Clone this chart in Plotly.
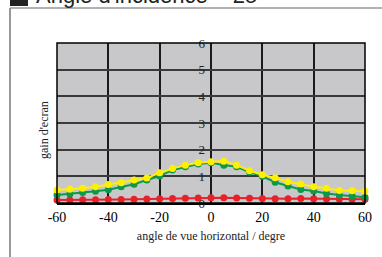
import plotly.graph_objects as go

angles = list(range(-60, 61, 5))
yellow = [0.49, 0.52, 0.55, 0.61, 0.69, 0.76, 0.86, 0.94, 1.13, 1.29, 1.42, 1.51, 1.55,
          1.57, 1.42, 1.21, 1.06, 0.95, 0.80, 0.71, 0.61, 0.55, 0.47, 0.46, 0.44]
green = [0.30, 0.34, 0.39, 0.44, 0.50, 0.61, 0.70, 0.86, 1.01, 1.24, 1.36, 1.46, 1.51,
         1.42, 1.36, 1.16, 1.00, 0.78, 0.64, 0.51, 0.45, 0.36, 0.30, 0.26, 0.22]
red = [0.11, 0.11, 0.12, 0.12, 0.13, 0.13, 0.14, 0.15, 0.16, 0.17, 0.18, 0.19, 0.20,
       0.20, 0.19, 0.18, 0.17, 0.16, 0.16, 0.17, 0.16, 0.15, 0.15, 0.14, 0.14]
x_ticks = [-60, -40, -20, 0, 20, 40, 60]
y_ticks = [0, 1, 2, 3, 4, 5, 6]

W, H = 382, 257
L, R, T, B = 57, 17, 43, 54
pw, ph = W - L - R, H - T - B

def px(x):
    return (x - L) / pw

def py(y):
    return (H - B - y) / ph

fig = go.Figure()
for vals, col in [(red, "#E8202A"), (green, "#0A9A4A"), (yellow, "#FFEF00")]:
    fig.add_trace(go.Scatter(x=angles, y=vals, mode="lines+markers",
                             line=dict(color=col, width=2),
                             marker=dict(color=col, size=7),
                             showlegend=False, cliponaxis=False))

fig.update_layout(
    width=W, height=H,
    margin=dict(l=L, r=R, t=T, b=B, autoexpand=False),
    paper_bgcolor="white", plot_bgcolor="#C8C8CA",
    font=dict(family="Liberation Serif", size=13, color="black"),
    xaxis=dict(range=[-60, 60], tickvals=x_ticks, ticktext=[str(v) for v in x_ticks],
               showgrid=True, gridcolor="#1a1a1a", gridwidth=1.5,
               zeroline=False, showline=True, linecolor="black", linewidth=2,
               ticks="", tickfont=dict(size=14, color="black"), automargin=False,
               title=dict(text="angle de vue horizontal / degre",
                          font=dict(size=12, color="#222"), standoff=8)),
    yaxis=dict(range=[0, 6], tickvals=y_ticks, ticktext=[str(v) for v in y_ticks],
               showgrid=True, gridcolor="#3a3a3a", gridwidth=1.5,
               zeroline=False, showline=False, anchor="free", position=0.5,
               automargin=False, ticklabelstandoff=6,
               ticks="", tickfont=dict(size=13, color="#222")),
    shapes=[
        dict(type="rect", xref="paper", yref="paper", x0=0, x1=1, y0=0, y1=1,
             line=dict(color="black", width=1.5), layer="above"),
        dict(type="line", xref="paper", yref="paper", x0=px(10), x1=px(10),
             y0=py(8), y1=py(H), line=dict(color="#555", width=1.2)),
        dict(type="line", xref="paper", yref="paper", x0=px(10), x1=px(W),
             y0=py(8), y1=py(8), line=dict(color="#999", width=1.5)),
        dict(type="rect", xref="paper", yref="paper", x0=px(10), x1=px(28),
             y0=py(6), y1=py(-10), fillcolor="#222", line=dict(width=0)),
    ],
    annotations=[
        dict(text="gain d'ecran", xref="paper", yref="paper", x=px(35), y=py(130),
             textangle=-90, showarrow=False, font=dict(size=12, color="#222")),
        dict(text="Angle d'incidence = 25°", xref="paper", yref="paper",
             x=px(34), y=py(10), xanchor="left", yanchor="bottom", showarrow=False,
             font=dict(family="Liberation Sans", size=22, color="#222")),
    ],
)

fig.write_html("out.html", config={"displayModeBar": False},
               post_script="document.body.style.margin='0';document.body.style.overflow='hidden';")
